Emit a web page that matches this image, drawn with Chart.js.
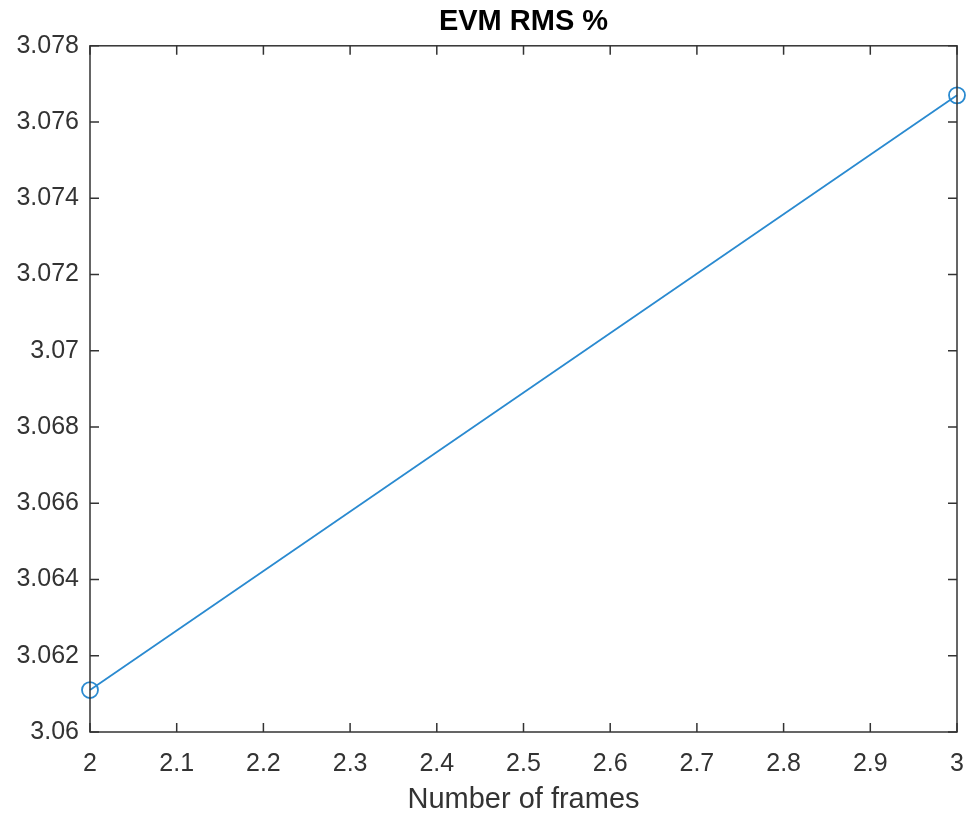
<!DOCTYPE html>
<html>
<head>
<meta charset="utf-8">
<title>EVM RMS %</title>
<script src="https://cdn.jsdelivr.net/npm/chart.js@4"></script>
<style>
  html, body { margin: 0; padding: 0; background: #fff; }
  #evmChart { display: block; }
</style>
</head>
<body>
<canvas id="evmChart" width="969" height="817"></canvas>
<script>
/* ===========================
   DATA
=========================== */

const frames = [2, 3];
const evmRms = [3.0611, 3.0767];

const xTicks = [2, 2.1, 2.2, 2.3, 2.4, 2.5, 2.6, 2.7, 2.8, 2.9, 3];
const yTicks = [3.06, 3.062, 3.064, 3.066, 3.068, 3.07, 3.072, 3.074, 3.076, 3.078];

const axisColor = "#333333";
const lineColor = "#2a8ad0";
const fontFamily = "'Liberation Sans', Arial, Helvetica, sans-serif";

/* ===========================
   BOX + INWARD TICKS (matlab look)
=========================== */

const boxPlugin = {
  id: "box",
  afterLayout(chart) {
    // center the title over the plot area, not the canvas
    const t = chart.titleBlock;
    if (t) {
      t.left = chart.chartArea.left;
      t.right = chart.chartArea.right;
      t.width = t.right - t.left;
    }
  },
  afterDraw(chart) {
    const { ctx, chartArea: a, scales } = chart;
    const len = 9;
    ctx.save();
    ctx.strokeStyle = axisColor;
    ctx.lineWidth = 1.5;
    ctx.strokeRect(a.left, a.top, a.right - a.left, a.bottom - a.top);
    ctx.beginPath();
    xTicks.forEach(v => {
      const x = scales.x.getPixelForValue(v);
      ctx.moveTo(x, a.bottom); ctx.lineTo(x, a.bottom - len);
      ctx.moveTo(x, a.top); ctx.lineTo(x, a.top + len);
    });
    yTicks.forEach(v => {
      const y = scales.y.getPixelForValue(v);
      ctx.moveTo(a.left, y); ctx.lineTo(a.left + len, y);
      ctx.moveTo(a.right, y); ctx.lineTo(a.right - len, y);
    });
    ctx.stroke();
    ctx.restore();
  }
};

/* ===========================
   LINE CHART
=========================== */

const ctx = document.getElementById("evmChart").getContext("2d");

new Chart(ctx, {
  type: "line",
  data: {
    datasets: [{
      label: "EVM RMS %",
      data: frames.map((f, i) => ({ x: f, y: evmRms[i] })),
      borderColor: lineColor,
      borderWidth: 1.8,
      backgroundColor: "transparent",
      pointStyle: "circle",
      pointRadius: 8,
      pointBorderWidth: 1.8,
      pointBorderColor: lineColor,
      pointBackgroundColor: "transparent",
      tension: 0,
      clip: false
    }]
  },
  options: {
    responsive: false,
    animation: false,
    layout: { padding: { right: 12 } },
    plugins: {
      legend: { display: false },
      tooltip: { enabled: false },
      title: {
        display: true,
        text: "EVM RMS %",
        color: "#000",
        font: { family: fontFamily, size: 29, weight: "bold" },
        padding: { top: 5, bottom: 6 }
      }
    },
    scales: {
      x: {
        type: "linear",
        min: 2,
        max: 3,
        afterBuildTicks: s => { s.ticks = xTicks.map(v => ({ value: v })); },
        afterFit: s => { s.height = 85; s.paddingLeft = 0; s.paddingRight = 0; },
        grid: { display: false, drawTicks: false },
        border: { display: false },
        ticks: {
          color: axisColor,
          font: { family: fontFamily, size: 25 },
          padding: 17,
          maxRotation: 0,
          callback: v => String(parseFloat(v.toFixed(3)))
        },
        title: {
          display: true,
          text: "Number of frames",
          color: axisColor,
          font: { family: fontFamily, size: 29 },
          padding: { top: 0, bottom: 0 }
        }
      },
      y: {
        min: 3.06,
        max: 3.078,
        afterBuildTicks: s => { s.ticks = yTicks.map(v => ({ value: v })); },
        afterFit: s => { s.width = 90; },
        grid: { display: false, drawTicks: false },
        border: { display: false },
        ticks: {
          color: axisColor,
          font: { family: fontFamily, size: 25 },
          padding: 11,
          callback: v => String(parseFloat(v.toFixed(3)))
        }
      }
    }
  },
  plugins: [boxPlugin]
});
</script>
</body>
</html>
